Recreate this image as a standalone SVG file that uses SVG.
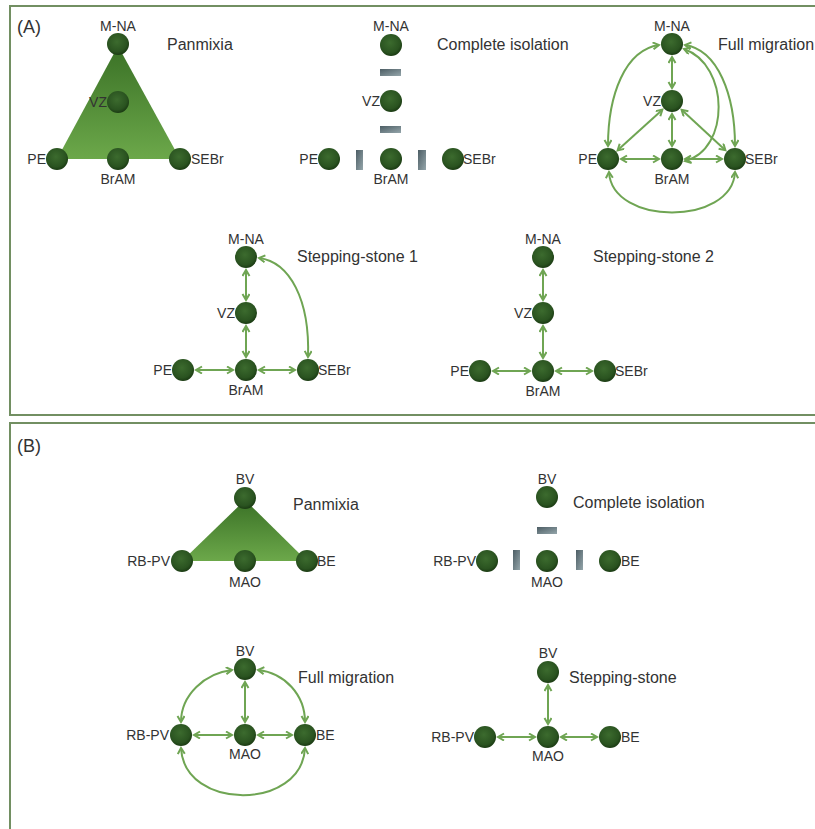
<svg xmlns="http://www.w3.org/2000/svg" width="815" height="829" viewBox="0 0 815 829">
<style>
text{font-family:"Liberation Sans",Arial,sans-serif;fill:#333;}
.lb{font-size:14px;}
.ti{font-size:16px;}
.pn{font-size:18px;}
.c{text-anchor:middle;}
.r{text-anchor:end;}
.nd{fill:url(#ball);}
.bar{fill:url(#barg);}
.cn{fill:none;stroke:#6fa553;stroke-width:2;marker-start:url(#ah);marker-end:url(#ah);}
.frame{fill:none;stroke:#728f62;stroke-width:2;}
</style>
<defs>
<radialGradient id="ball" cx="0.45" cy="0.4" r="0.6">
<stop offset="0" stop-color="#3c6b2e"/>
<stop offset="0.75" stop-color="#2a5320"/>
<stop offset="1" stop-color="#1b3b13"/>
</radialGradient>
<linearGradient id="tri" x1="0" y1="0" x2="0" y2="1">
<stop offset="0" stop-color="#3a7126"/>
<stop offset="1" stop-color="#6ca84a"/>
</linearGradient>
<linearGradient id="barg" x1="0" y1="0" x2="1" y2="1">
<stop offset="0" stop-color="#4c5d64"/>
<stop offset="1" stop-color="#95a6ab"/>
</linearGradient>
<marker id="ah" markerUnits="userSpaceOnUse" markerWidth="10" markerHeight="10" refX="7" refY="4" orient="auto-start-reverse">
<path d="M1,0.5 L7,4 L1,7.5" fill="none" stroke="#6fa553" stroke-width="2"/>
</marker>
</defs>

<rect class="frame" x="10" y="6" width="820" height="409"/>
<rect class="frame" x="10" y="423" width="820" height="420"/>
<text class="pn" x="17" y="33">(A)</text>
<text class="pn" x="17" y="452">(B)</text>

<g id="connectors">
<!-- A full migration -->
<path class="cn" d="M672,57 L672,88"/>
<path class="cn" d="M672,114 L672,146"/>
<path class="cn" d="M621,159 L659,159"/>
<path class="cn" d="M685,159 L722,159"/>
<path class="cn" d="M662.4,109.7 L617.6,150.3"/>
<path class="cn" d="M681.6,109.8 L725.4,150.2"/>
<path class="cn" d="M659,45 C625,50 608,95 608,146"/>
<path class="cn" d="M685,45 C718,50 735,95 735,146"/>
<path class="cn" d="M684,49 C730,65 730,150 685,161"/>
<path class="cn" d="M609,172 C612,226 732,226 735,172"/>
<!-- A stepping-stone 1 -->
<path class="cn" d="M246,270 L246,300"/>
<path class="cn" d="M246,326 L246,357"/>
<path class="cn" d="M196,370 L233,370"/>
<path class="cn" d="M259,370 L295,370"/>
<path class="cn" d="M259,258 C290,262 310,300 308,357"/>
<!-- A stepping-stone 2 -->
<path class="cn" d="M543,270 L543,300"/>
<path class="cn" d="M543,326 L543,358"/>
<path class="cn" d="M493,371 L530,371"/>
<path class="cn" d="M556,371 L592,371"/>
<!-- B full migration -->
<path class="cn" d="M245,682 L245,722"/>
<path class="cn" d="M194,735 L232,735"/>
<path class="cn" d="M258,735 L292,735"/>
<path class="cn" d="M232,670 C205,673 181,695 181,722"/>
<path class="cn" d="M258,670 C285,673 305,695 305,722"/>
<path class="cn" d="M181,748 C184,811 302,811 305,748"/>
<!-- B stepping-stone -->
<path class="cn" d="M548,685 L548,724"/>
<path class="cn" d="M498,737 L535,737"/>
<path class="cn" d="M561,737 L597,737"/>
</g>

<!-- A Panmixia -->
<g id="a-panmixia">
<polygon points="118,46 57,159 180,159" fill="url(#tri)"/>
<text class="ti" x="167" y="50">Panmixia</text>
</g>
<g id="a-pan-mna"><circle class="nd" cx="118" cy="44" r="11"/><text class="lb c" x="118" y="31">M-NA</text></g>
<g id="a-pan-vz"><circle class="nd" cx="118" cy="102" r="11"/><text class="lb r" x="107" y="107">VZ</text></g>
<g id="a-pan-pe"><circle class="nd" cx="57" cy="159" r="11"/><text class="lb r" x="46" y="164">PE</text></g>
<g id="a-pan-bram"><circle class="nd" cx="118" cy="159" r="11"/><text class="lb c" x="118" y="184">BrAM</text></g>
<g id="a-pan-sebr"><circle class="nd" cx="180" cy="159" r="11"/><text class="lb" x="191" y="164">SEBr</text></g>

<!-- A Complete isolation -->
<g id="a-isolation">
<text class="ti" x="437" y="50">Complete isolation</text>
<rect class="bar" x="380" y="69" width="21" height="7"/>
<rect class="bar" x="380" y="126" width="21" height="7"/>
<rect class="bar" x="356" y="150" width="7" height="20"/>
<rect class="bar" x="418" y="150" width="8" height="20"/>
</g>
<g id="a-iso-mna"><circle class="nd" cx="391" cy="45" r="11"/><text class="lb c" x="391" y="31">M-NA</text></g>
<g id="a-iso-vz"><circle class="nd" cx="391" cy="101" r="11"/><text class="lb r" x="380" y="106">VZ</text></g>
<g id="a-iso-pe"><circle class="nd" cx="329" cy="159" r="11"/><text class="lb r" x="318" y="164">PE</text></g>
<g id="a-iso-bram"><circle class="nd" cx="391" cy="159" r="11"/><text class="lb c" x="391" y="184">BrAM</text></g>
<g id="a-iso-sebr"><circle class="nd" cx="453" cy="159" r="11"/><text class="lb" x="463" y="164">SEBr</text></g>

<!-- A Full migration -->
<g id="a-full"><text class="ti" x="718" y="50">Full migration</text></g>
<g id="a-full-mna"><circle class="nd" cx="672" cy="44" r="11"/><text class="lb c" x="672" y="31">M-NA</text></g>
<g id="a-full-vz"><circle class="nd" cx="672" cy="101" r="11"/><text class="lb r" x="661" y="106">VZ</text></g>
<g id="a-full-pe"><circle class="nd" cx="608" cy="159" r="11"/><text class="lb r" x="597" y="164">PE</text></g>
<g id="a-full-bram"><circle class="nd" cx="672" cy="159" r="11"/><text class="lb c" x="672" y="184">BrAM</text></g>
<g id="a-full-sebr"><circle class="nd" cx="735" cy="159" r="11"/><text class="lb" x="745" y="164">SEBr</text></g>

<!-- A Stepping-stone 1 -->
<g id="a-ss1"><text class="ti" x="297" y="262">Stepping-stone 1</text></g>
<g id="a-ss1-mna"><circle class="nd" cx="246" cy="257" r="11"/><text class="lb c" x="246" y="244">M-NA</text></g>
<g id="a-ss1-vz"><circle class="nd" cx="246" cy="313" r="11"/><text class="lb r" x="235" y="318">VZ</text></g>
<g id="a-ss1-pe"><circle class="nd" cx="183" cy="370" r="11"/><text class="lb r" x="172" y="375">PE</text></g>
<g id="a-ss1-bram"><circle class="nd" cx="246" cy="370" r="11"/><text class="lb c" x="246" y="395">BrAM</text></g>
<g id="a-ss1-sebr"><circle class="nd" cx="308" cy="370" r="11"/><text class="lb" x="318" y="375">SEBr</text></g>

<!-- A Stepping-stone 2 -->
<g id="a-ss2"><text class="ti" x="593" y="262">Stepping-stone 2</text></g>
<g id="a-ss2-mna"><circle class="nd" cx="543" cy="257" r="11"/><text class="lb c" x="543" y="244">M-NA</text></g>
<g id="a-ss2-vz"><circle class="nd" cx="543" cy="313" r="11"/><text class="lb r" x="532" y="318">VZ</text></g>
<g id="a-ss2-pe"><circle class="nd" cx="480" cy="371" r="11"/><text class="lb r" x="469" y="376">PE</text></g>
<g id="a-ss2-bram"><circle class="nd" cx="543" cy="371" r="11"/><text class="lb c" x="543" y="396">BrAM</text></g>
<g id="a-ss2-sebr"><circle class="nd" cx="605" cy="371" r="11"/><text class="lb" x="615" y="376">SEBr</text></g>

<!-- B Panmixia -->
<g id="b-panmixia">
<polygon points="245,500 182,561 307,561" fill="url(#tri)"/>
<text class="ti" x="293" y="510">Panmixia</text>
</g>
<g id="b-pan-bv"><circle class="nd" cx="245" cy="498" r="11"/><text class="lb c" x="245" y="484">BV</text></g>
<g id="b-pan-rbpv"><circle class="nd" cx="182" cy="561" r="11"/><text class="lb r" x="170" y="566">RB-PV</text></g>
<g id="b-pan-mao"><circle class="nd" cx="245" cy="561" r="11"/><text class="lb c" x="245" y="587">MAO</text></g>
<g id="b-pan-be"><circle class="nd" cx="307" cy="561" r="11"/><text class="lb" x="317" y="566">BE</text></g>

<!-- B Complete isolation -->
<g id="b-isolation">
<text class="ti" x="573" y="508">Complete isolation</text>
<rect class="bar" x="537" y="527" width="20" height="7"/>
<rect class="bar" x="513" y="550" width="7" height="20"/>
<rect class="bar" x="576" y="550" width="7" height="20"/>
</g>
<g id="b-iso-bv"><circle class="nd" cx="547" cy="497" r="11"/><text class="lb c" x="547" y="484">BV</text></g>
<g id="b-iso-rbpv"><circle class="nd" cx="487" cy="561" r="11"/><text class="lb r" x="476" y="566">RB-PV</text></g>
<g id="b-iso-mao"><circle class="nd" cx="547" cy="561" r="11"/><text class="lb c" x="547" y="587">MAO</text></g>
<g id="b-iso-be"><circle class="nd" cx="610" cy="561" r="11"/><text class="lb" x="621" y="566">BE</text></g>

<!-- B Full migration -->
<g id="b-full"><text class="ti" x="298" y="683">Full migration</text></g>
<g id="b-full-bv"><circle class="nd" cx="245" cy="669" r="11"/><text class="lb c" x="245" y="656">BV</text></g>
<g id="b-full-rbpv"><circle class="nd" cx="181" cy="735" r="11"/><text class="lb r" x="169" y="740">RB-PV</text></g>
<g id="b-full-mao"><circle class="nd" cx="245" cy="735" r="11"/><text class="lb c" x="245" y="759">MAO</text></g>
<g id="b-full-be"><circle class="nd" cx="305" cy="735" r="11"/><text class="lb" x="316" y="740">BE</text></g>

<!-- B Stepping-stone -->
<g id="b-ss"><text class="ti" x="569" y="683">Stepping-stone</text></g>
<g id="b-ss-bv"><circle class="nd" cx="548" cy="672" r="11"/><text class="lb c" x="548" y="658">BV</text></g>
<g id="b-ss-rbpv"><circle class="nd" cx="485" cy="737" r="11"/><text class="lb r" x="474" y="742">RB-PV</text></g>
<g id="b-ss-mao"><circle class="nd" cx="548" cy="737" r="11"/><text class="lb c" x="548" y="761">MAO</text></g>
<g id="b-ss-be"><circle class="nd" cx="610" cy="737" r="11"/><text class="lb" x="621" y="742">BE</text></g>
</svg>
